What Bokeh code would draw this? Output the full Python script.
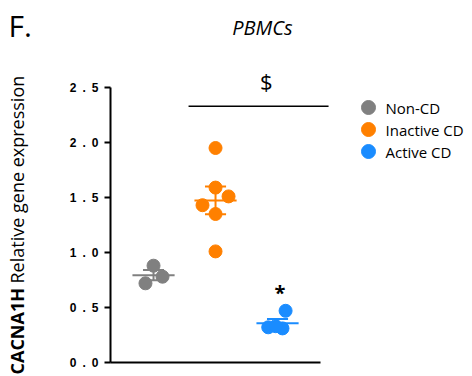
import numpy as np
from bokeh.plotting import figure
from bokeh.models import Range1d, FixedTicker, Label
from bokeh.core.properties import value
from bokeh.embed import file_html
from bokeh.resources import INLINE

# ---- data ----
groups = ["Non-CD", "Inactive CD", "Active CD"]
colors = ["#808080", "#ff8000", "#1a8cff"]
group_pos = [1, 2, 3]
non_cd = [0.88, 0.78, 0.72]
inactive_cd = [1.95, 1.59, 1.51, 1.43, 1.35, 1.01]
active_cd = [0.47, 0.32, 0.31, 0.33]
non_cd_jitter = [0.0, 0.145, -0.13]
inactive_cd_jitter = [0.0, 0.0, 0.21, -0.21, 0.0, 0.0]
active_cd_jitter = [0.13, -0.15, 0.08, -0.03]
y_ticks = [0.0, 0.5, 1.0, 1.5, 2.0, 2.5]
y_tick_labels = ["0\u2002.\u20020", "0\u2002.\u20025", "1\u2002.\u20020",
                 "1\u2002.\u20025", "2\u2002.\u20020", "2\u2002.\u20025"]

series = [non_cd, inactive_cd, active_cd]
jitters = [non_cd_jitter, inactive_cd_jitter, active_cd_jitter]

FONT = "Open Sans"
W, H = 472, 376

# layout helpers (pixel -> data), frame covers the whole canvas
X0_PX, X_UNIT = 110, 62.0      # y axis at pixel 110; 62 px per group
X_START = 0.306
Y0_PX, Y_UNIT = 362, 110.0     # y=0 at pixel 362; 110 px per unit


def dx(px):
    return X_START + (px - X0_PX) / X_UNIT


def dy(py):
    return (Y0_PX - py) / Y_UNIT


p = figure(width=W, height=H, x_range=Range1d(dx(0), dx(W)),
           y_range=Range1d(dy(H), dy(0)), output_backend="svg",
           toolbar_location=None, min_border=0)
p.grid.visible = False
p.outline_line_color = None

# axes drawn inside the frame at fixed locations
p.xaxis.fixed_location = 0
p.xaxis.bounds = (X_START, 3.69)
p.xaxis.ticker = FixedTicker(ticks=[])
p.xaxis.major_tick_line_color = None
p.xaxis.minor_tick_line_color = None
p.xaxis.axis_line_width = 2
p.xaxis.axis_line_color = "black"

p.yaxis.fixed_location = X_START
p.yaxis.bounds = (0, 2.5)
p.yaxis.ticker = FixedTicker(ticks=y_ticks)
p.yaxis.major_label_overrides = {t: l for t, l in zip(y_ticks, y_tick_labels)}
p.yaxis.minor_tick_line_color = None
p.yaxis.major_tick_in = 0
p.yaxis.major_tick_out = 6
p.yaxis.major_tick_line_width = 2
p.yaxis.axis_line_width = 2
p.yaxis.axis_line_color = "black"
p.yaxis.major_tick_line_color = "black"
p.yaxis.major_label_text_font = "Liberation Sans"
p.yaxis.major_label_text_font_style = "bold"
p.yaxis.major_label_text_font_size = "12px"
p.yaxis.major_label_text_color = "black"
p.yaxis.major_label_standoff = 6

half_mean = 0.34
half_cap = 0.17
for name, vals, jit, col, pos in zip(groups, series, jitters, colors, group_pos):
    v = np.array(vals)
    m = v.mean()
    sem = v.std(ddof=1) / np.sqrt(len(v))
    p.segment(x0=[pos - half_mean], x1=[pos + half_mean], y0=[m], y1=[m],
              line_color=col, line_width=2)
    p.segment(x0=[pos, pos - half_cap, pos - half_cap],
              x1=[pos, pos + half_cap, pos + half_cap],
              y0=[m - sem, m + sem, m - sem], y1=[m + sem, m + sem, m - sem],
              line_color=col, line_width=2)
    p.scatter(x=[pos + j for j in jit], y=vals, size=13, marker="circle",
              fill_color=col, line_color=col)

# significance annotations
sig_x0, sig_x1, sig_y = 1.565, 3.823, 2.33
p.segment(x0=[sig_x0], x1=[sig_x1], y0=[sig_y], y1=[sig_y],
          line_color="black", line_width=1.5)
p.add_layout(Label(x=2.82, y=2.56, text="$", text_align="center",
                   text_baseline="middle", text_font=FONT,
                   text_font_size="22px", text_color="black"))
p.add_layout(Label(x=3.04, y=0.64, text="*", text_align="center",
                   text_baseline="middle", text_font=FONT,
                   text_font_style="bold", text_font_size="20px",
                   text_color="black"))

# panel letter, title and y-axis title
p.add_layout(Label(x=dx(8), y=dy(25), text="F.", text_align="left",
                   text_baseline="alphabetic", text_font=FONT,
                   text_font_size="30px", text_color="black"))
p.add_layout(Label(x=dx(262), y=dy(27), text="PBMCs", text_align="center",
                   text_baseline="alphabetic", text_font=FONT,
                   text_font_style="italic", text_font_size="20px",
                   text_color="black"))
p.add_layout(Label(x=dx(16), y=dy(374), text="CACNA1H", angle=np.pi / 2,
                   text_align="left", text_baseline="middle",
                   text_font=FONT, text_font_style="bold",
                   text_font_size="18px", text_color="black"))
p.add_layout(Label(x=dx(16), y=dy(283), text="Relative gene expression",
                   angle=np.pi / 2, text_align="left",
                   text_baseline="middle", text_font=FONT,
                   text_font_size="18px", text_color="black"))

# legend (keys + labels)
legend_x, legend_label_x = dx(368), dx(385)
legend_y = [dy(107), dy(129), dy(151)]
p.scatter(x=[legend_x] * 3, y=legend_y, size=14, marker="circle",
          fill_color=colors, line_color=colors)
p.text(x=[legend_label_x] * 3, y=legend_y, text=groups,
       text_font=value(FONT), text_font_size="15px",
       text_baseline="middle", text_align="left", text_color="black")

open("out.html", "w").write(file_html(p, INLINE))
